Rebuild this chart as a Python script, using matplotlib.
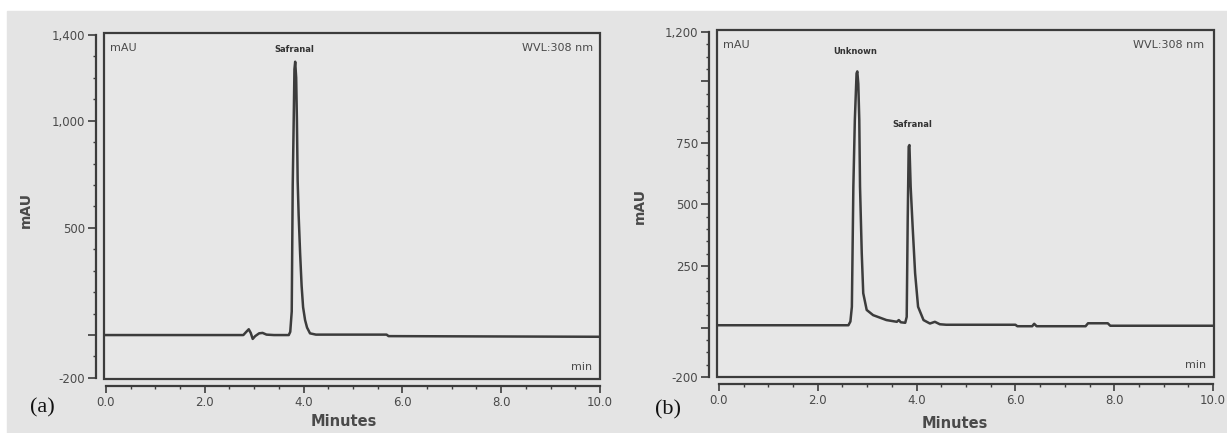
"""
plot.py
Two HPLC chromatograms (308 nm): (a) safranal standard, (b) sample with an
unknown peak ahead of safranal. Saves out.png.
"""

import matplotlib as mpl
mpl.use("Agg")
import matplotlib.pyplot as plt
from matplotlib.patches import Rectangle
from matplotlib.ticker import FixedLocator, MultipleLocator

# ---- data (time in min, signal in mAU) ----
a_time = [0.0, 2.78, 2.84, 2.89, 2.93, 2.97, 3.02, 3.10, 3.17, 3.25, 3.40,
          3.70, 3.73, 3.76, 3.78, 3.80, 3.815, 3.83, 3.85, 3.865, 3.88,
          3.90, 3.93, 3.96, 3.99, 4.03, 4.07, 4.13, 4.25, 5.68, 5.72, 10.0]
a_mau = [0, 0, 15, 27, 10, -18, -5, 8, 10, 2, 0,
         0, 15, 110, 700, 1000, 1240, 1275, 1200, 1000, 720,
         560, 380, 230, 130, 70, 35, 8, 2, 2, -5, -8]

b_time = [0.0, 2.62, 2.66, 2.69, 2.72, 2.75, 2.785, 2.80, 2.82, 2.84,
          2.855, 2.89, 2.92, 2.99, 3.12, 3.39, 3.60, 3.64, 3.68, 3.77,
          3.80, 3.82, 3.84, 3.855, 3.88, 3.92, 3.97, 4.03, 4.14, 4.27,
          4.37, 4.47, 4.60, 6.00, 6.04, 6.34, 6.38, 6.43, 7.42, 7.47,
          7.87, 7.92, 10.0]
b_mau = [10, 10, 25, 85, 572, 843, 1032, 1040, 990, 843,
         572, 302, 140, 72, 51, 31, 24, 31, 22, 20,
         44, 437, 735, 741, 572, 410, 221, 85, 31, 17,
         24, 14, 12, 12, 6, 6, 16, 6, 6, 18,
         18, 8, 8]

a_peaks = ["Safranal"]
a_peak_pos = [(3.81, 1330)]
b_peaks = ["Unknown", "Safranal"]
b_peak_pos = [(2.75, 1119), (3.91, 823)]

a_yticks = [-200, 0, 500, 1000, 1400]
a_ylabels = ["-200", "", "500", "1,000", "1,400"]
b_yticks = [-200, 0, 250, 500, 750, 1000, 1200]
b_ylabels = ["-200", "", "250", "500", "750", "", "1,200"]
x_ticks = [0, 2, 4, 6, 8, 10]
x_labels = ["0.0", "2.0", "4.0", "6.0", "8.0", "10.0"]

W, H = 1227, 433
LINE = "#3c3c3c"
TXT = "#4a4a4a"
BG = "#e4e4e4"

mpl.rcParams.update({"font.family": "DejaVu Sans", "axes.linewidth": 1.3,
                     "xtick.color": LINE, "ytick.color": LINE,
                     "xtick.labelcolor": TXT, "ytick.labelcolor": TXT})


def px_axes(fig, left, top, right, bottom):
    return fig.add_axes([left / W, 1 - bottom / H, (right - left) / W, (bottom - top) / H])


def draw_panel(ax, t, y, xlim, ylim, yticks, ylabels, yminor, peaks, peak_pos,
               wvl_dx, ylab_xy, xlab_xy):
    ax.set_facecolor("#e7e7e7")
    ax.plot(t, y, color=LINE, lw=1.8, solid_joinstyle="round")
    ax.set_xlim(*xlim)
    ax.set_ylim(*ylim)

    # box frame drawn separately, real axes pushed outward
    ax.add_patch(Rectangle((0, 0), 1, 1, transform=ax.transAxes, fill=False,
                           ec=LINE, lw=1.6, clip_on=False, zorder=5))
    for s in ["top", "right"]:
        ax.spines[s].set_visible(False)
    ax.spines["left"].set_position(("outward", 6))
    ax.spines["bottom"].set_position(("outward", 5))
    ax.spines["left"].set_bounds(yticks[0], yticks[-1])
    ax.spines["bottom"].set_bounds(0, 10)
    for s in ["left", "bottom"]:
        ax.spines[s].set_color(LINE)
        ax.spines[s].set_linewidth(1.6)

    ax.yaxis.set_major_locator(FixedLocator(yticks))
    ax.set_yticklabels(ylabels)
    ax.yaxis.set_minor_locator(MultipleLocator(yminor))
    ax.xaxis.set_major_locator(FixedLocator(x_ticks))
    ax.set_xticklabels(x_labels)
    ax.xaxis.set_minor_locator(MultipleLocator(0.5))
    ax.tick_params(axis="y", which="major", length=6, width=1.2, pad=1.5, labelsize=8.5)
    ax.tick_params(axis="y", which="minor", length=2.5, width=1.0)
    ax.tick_params(axis="x", which="major", length=5, width=1.2, pad=2, labelsize=8.5)
    ax.tick_params(axis="x", which="minor", length=2, width=1.0)

    ax.set_ylabel("mAU", fontsize=10, fontweight="bold", color=TXT)
    ax.yaxis.set_label_coords(*ylab_xy)
    ax.set_xlabel("Minutes", fontsize=10.5, fontweight="bold", color=TXT, va="center")
    ax.xaxis.set_label_coords(*xlab_xy)

    ax.annotate("mAU", xy=(0, 1), xycoords="axes fraction", xytext=(6, -15),
                textcoords="offset pixels", fontsize=8, color=TXT, va="center")
    ax.annotate("WVL:308 nm", xy=(1, 1), xycoords="axes fraction", xytext=(wvl_dx, -15),
                textcoords="offset pixels", fontsize=8, color=TXT, va="center", ha="right")
    ax.annotate("min", xy=(1, 0), xycoords="axes fraction", xytext=(-8, 12),
                textcoords="offset pixels", fontsize=8, color=TXT, va="center", ha="right")

    for name, (px, py) in zip(peaks, peak_pos):
        ax.text(px, py, name, fontsize=6, fontweight="bold", color="#333333",
                ha="center", va="center")


def main():
    fig = plt.figure(figsize=(W / 100, H / 100), dpi=100, facecolor="white")
    fig.patches.append(Rectangle((7 / W, 0), 1 - 7 / W, 1 - 11 / H,
                                 transform=fig.transFigure, color=BG, zorder=-10))

    ax_a = px_axes(fig, 104, 33, 600, 379)
    draw_panel(ax_a, a_time, a_mau, (-0.04, 10.0), (-205, 1409),
               a_yticks, a_ylabels, 100, a_peaks, a_peak_pos,
               -7, (-0.143, 0.488), (0.484, -0.124))

    ax_b = px_axes(fig, 717, 30, 1214, 377)
    draw_panel(ax_b, b_time, b_mau, (-0.04, 10.02), (-200, 1208),
               b_yticks, b_ylabels, 50, b_peaks, b_peak_pos,
               -10, (-0.141, 0.493), (0.479, -0.135))

    fig.text(42 / W, 1 - 408 / H, "(a)", family="Liberation Serif", fontsize=16,
             ha="center", va="center", color="#111111")
    fig.text(668 / W, 1 - 410 / H, "(b)", family="Liberation Serif", fontsize=16,
             ha="center", va="center", color="#111111")

    fig.savefig("out.png", dpi=100, facecolor=fig.get_facecolor())
    plt.close(fig)


if __name__ == "__main__":
    main()
